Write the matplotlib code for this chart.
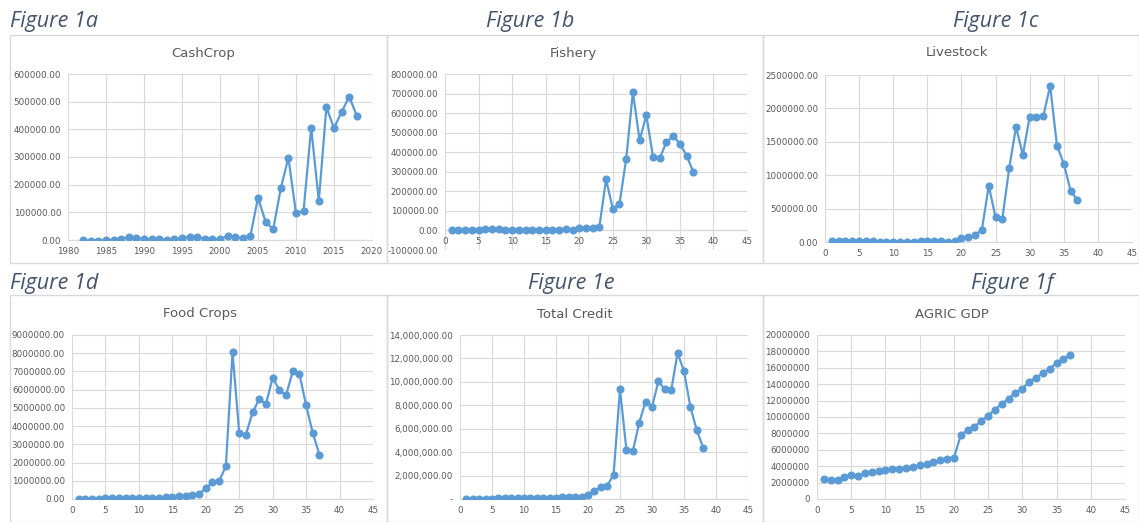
import numpy as np
import matplotlib.pyplot as plt
from matplotlib.patches import Rectangle
from matplotlib.ticker import FuncFormatter, MultipleLocator

# Data series
years = list(range(1982, 2019))
cash_crop = [0, -2000, -2000, 0, 0, 5000, 10000, 8000, 3000, 3000, 3000, 0, 3000, 8000,
             10000, 12000, 5000, 3000, 3000, 15000, 10000, 8000, 15000, 153000, 66000,
             38500, 187000, 298000, 96000, 106000, 406000, 140000, 480000, 404000,
             463000, 518000, 449000]

idx37 = list(range(1, 38))
idx38 = list(range(1, 39))

fishery = [0, 0, 0, 0, 0, 5000, 5000, 5000, 3000, 0, 0, 0, 3000, 0, 3000, 3000, 3000,
           5000, 0, 15000, 10000, 12000, 18000, 261000, 111000, 137000, 366000, 708000,
           460000, 590000, 376000, 369000, 453000, 482000, 444000, 383000, 299000]

livestock = [15000, 15000, 10000, 10000, 20000, 20000, 15000, 0, 0, 0, 0, 0, 5000, 10000,
             20000, 15000, 15000, 5000, 20000, 55000, 70000, 100000, 185000, 842000,
             368000, 349000, 1105000, 1723000, 1305000, 1877000, 1877000, 1882000,
             2340000, 1444000, 1170000, 767000, 627000]

food_crops = [0, 0, -20000, 0, 30000, 30000, 50000, 80000, 60000, 60000, 60000, 60000,
              60000, 110000, 130000, 160000, 170000, 200000, 290000, 585000, 915000,
              990000, 1790000, 8050000, 3620000, 3530000, 4755000, 5490000, 5210000,
              6660000, 5980000, 5690000, 7005000, 6860000, 5140000, 3620000, 2415000]

total_credit = [20000, 20000, 20000, 20000, 20000, 50000, 80000, 80000, 80000, 80000,
                60000, 60000, 60000, 100000, 120000, 180000, 190000, 150000, 200000,
                370000, 680000, 1050000, 1140000, 2080000, 9360000, 4210000, 4070000,
                6520000, 8310000, 7850000, 10050000, 9360000, 9280000, 12460000,
                10900000, 7850000, 5860000, 4380000]

agric_gdp = [2430000, 2350000, 2270000, 2720000, 2960000, 2840000, 3160000, 3330000,
             3410000, 3570000, 3650000, 3690000, 3810000, 3940000, 4100000, 4260000,
             4460000, 4710000, 4830000, 4990000, 7790000, 8400000, 8840000, 9490000,
             10180000, 10910000, 11600000, 12250000, 12980000, 13390000, 14320000,
             14730000, 15380000, 15900000, 16590000, 17120000, 17530000]

W, H = 1139, 522
LINE = '#5B9BD5'
GRID = '#D9D9D9'
TXT = '#595959'
LABEL = '#44546A'

fig = plt.figure(figsize=(W / 100, H / 100), dpi=100)


def px_rect(l, t, r, b):
    return [l / W, 1 - b / H, (r - l) / W, (b - t) / H]


def fmt_2dp(v, pos):
    return f"{v:.2f}"


def fmt_comma(v, pos):
    if abs(v) < 1e-9:
        return '-'
    return f"{v:,.2f}"


def fmt_int(v, pos):
    return f"{v:.0f}"


# chart frames
for (l, t, r, b) in [(10, 35, 387, 263), (387, 35, 763, 263), (763, 35, 1139, 263),
                     (10, 295, 387, 522), (387, 295, 763, 522), (763, 295, 1139, 522)]:
    fig.patches.append(Rectangle((l / W, 1 - b / H), (r - l) / W, (b - t) / H,
                                 transform=fig.transFigure, fill=False,
                                 edgecolor=GRID, linewidth=1.0))

panels = [
    # name, x, y, plot rect, xlim, xstep, ylim, ystep, formatter, title pos, label
    ('CashCrop', years, cash_crop, (68, 74, 372, 240), (1980, 2020), 5,
     (0, 600000), 100000, fmt_2dp, (203, 53), ('Figure 1a', 10, 'left', 27)),
    ('Fishery', idx37, fishery, (445, 74, 747, 250), (0, 45), 5,
     (-100000, 800000), 100000, fmt_2dp, (573, 53), ('Figure 1b', 530, 'center', 27)),
    ('Livestock', idx37, livestock, (825, 75, 1132, 242), (0, 45), 5,
     (0, 2500000), 500000, fmt_2dp, (957, 53), ('Figure 1c', 996, 'center', 27)),
    ('Food Crops', idx37, food_crops, (72, 335, 373, 499), (0, 45), 5,
     (0, 9000000), 1000000, fmt_2dp, (200, 314), ('Figure 1d', 10, 'left', 289)),
    ('Total Credit', idx38, total_credit, (460, 335, 748, 499), (0, 45), 5,
     (0, 14000000), 2000000, fmt_comma, (575, 314), ('Figure 1e', 571, 'center', 289)),
    ('AGRIC GDP', idx37, agric_gdp, (817, 335, 1125, 499), (0, 45), 5,
     (0, 20000000), 2000000, fmt_int, (952, 314), ('Figure 1f', 1012, 'center', 289)),
]

for (name, xs, ys, rect, xlim, xstep, ylim, ystep, fmt, tpos, lab) in panels:
    ax = fig.add_axes(px_rect(*rect))
    ax.plot(xs, ys, color=LINE, linewidth=1.6, marker='o', markersize=4.8,
            markerfacecolor=LINE, markeredgecolor=LINE, zorder=3)
    ax.set_xlim(*xlim)
    ax.set_ylim(*ylim)
    ax.xaxis.set_major_locator(MultipleLocator(xstep))
    ax.yaxis.set_major_locator(MultipleLocator(ystep))
    ax.yaxis.set_major_formatter(FuncFormatter(fmt))
    ax.grid(True, color=GRID, linewidth=0.8, zorder=0)
    ax.set_axisbelow(True)
    for s in ['top', 'right', 'left']:
        ax.spines[s].set_visible(False)
    ax.spines['bottom'].set_color(GRID)
    ax.spines['bottom'].set_linewidth(0.9)
    if ylim[0] < 0:
        ax.spines['bottom'].set_position(('data', 0))
    ax.tick_params(length=0, labelsize=6.3, labelcolor=TXT, pad=5)
    ax.set_facecolor('white')

    fig.text(tpos[0] / W, 1 - tpos[1] / H, name, ha='center', va='center',
             fontsize=9.5, color=TXT, family='DejaVu Sans')
    fig.text(lab[1] / W, 1 - lab[3] / H, lab[0], ha=lab[2], va='baseline',
             fontsize=15.5, style='italic', color=LABEL, family='Open Sans')

fig.savefig('out.png', dpi=100, facecolor='white')
